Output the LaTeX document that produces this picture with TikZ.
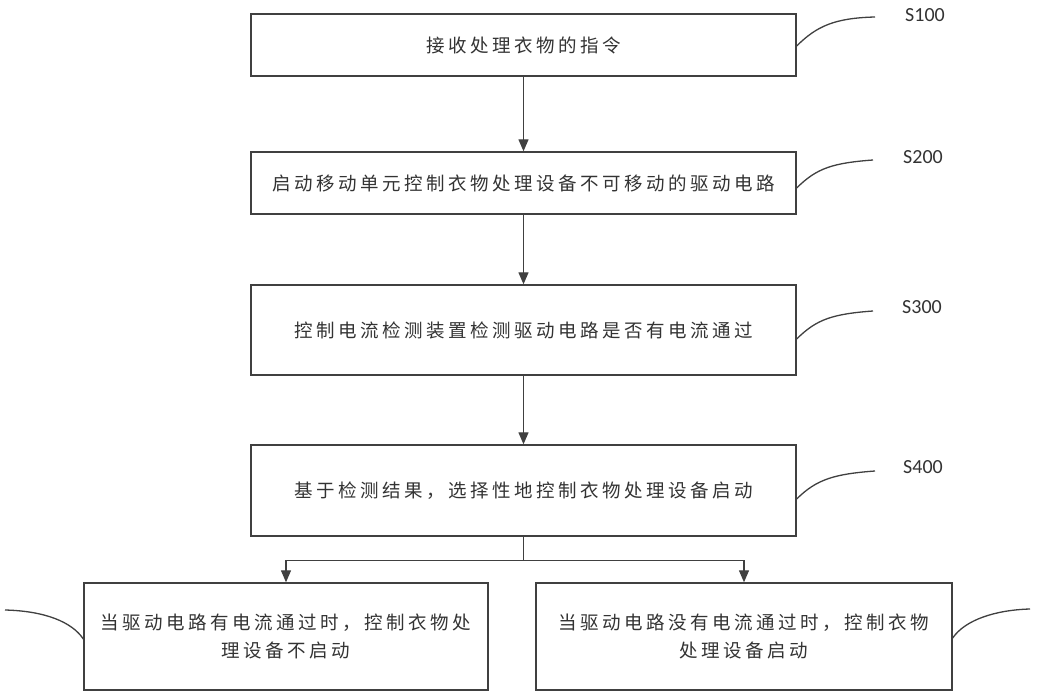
\documentclass[tikz,border=0pt]{standalone}
\usepackage{fontspec}
\usetikzlibrary{arrows.meta,calc}
\newfontfamily\cjk[LetterSpace=19]{Noto Sans CJK SC}
\newfontfamily\labfont{Carlito}
\definecolor{ln}{HTML}{404040}
\definecolor{tx}{HTML}{333333}
\begin{document}
\begin{tikzpicture}[x=1pt,y=-1pt,
  box/.style={draw=ln,line width=1.4pt,fill=white,inner sep=0pt,
    text=tx,font=\cjk\fontsize{18.5}{28}\selectfont,align=center},
  arr/.style={draw=ln,line width=1.3pt,-{Triangle[length=12pt,width=10pt]}},
  conn/.style={draw=ln,line width=1.3pt},
  lead/.style={draw=ln,line width=1.3pt},
  lab/.style={text=tx,font=\labfont\fontsize{20}{24}\selectfont,inner sep=0pt}]
\useasboundingbox[fill=white] (0,0) rectangle (1050,700);

\node[box,minimum width=545pt,minimum height=62pt] (b1) at (523.5,45) {接收处理衣物的指令};
\node[box,minimum width=545pt,minimum height=62pt] (b2) at (523.5,183) {启动移动单元控制衣物处理设备不可移动的驱动电路};
\node[box,minimum width=545pt,minimum height=90pt] (b3) at (523.5,330) {控制电流检测装置检测驱动电路是否有电流通过};
\node[box,minimum width=545pt,minimum height=91pt] (b4) at (523.5,490.5) {基于检测结果，选择性地控制衣物处理设备启动};
\node[box,minimum width=404pt,minimum height=107pt] (bl) at (286,636.5) {当驱动电路有电流通过时，控制衣物处\\理设备不启动};
\node[box,minimum width=416pt,minimum height=107pt] (br) at (744,636.5) {当驱动电路没有电流通过时，控制衣物\\处理设备启动};

\draw[arr] (b1) -- (b2);
\draw[arr] (b2) -- (b3);
\draw[arr] (b3) -- (b4);
\draw[conn] (b4.south) -- ++(0,24) coordinate (j);
\draw[arr] (j) -| (bl.north);
\draw[arr] (j) -| (br.north);

\node[lab] (l1) at (925,15) {S100};
\node[lab] (l2) at (923,157) {S200};
\node[lab] (l3) at (922,307) {S300};
\node[lab] (l4) at (923,467) {S400};

\coordinate (e1) at (b1.east |- 0,46);
\coordinate (e2) at (b2.east |- 0,188);
\coordinate (e3) at (b3.east |- 0,339);
\coordinate (e4) at (b4.east |- 0,499);
\coordinate (t1) at (875,17);
\coordinate (t2) at (873,160);
\coordinate (t3) at (873,311);
\coordinate (t4) at (875,471);
\draw[lead] (e1) .. controls ($(e1)+(20,-20)$) and ($(t1)+(-40,1)$) .. (t1);
\draw[lead] (e2) .. controls ($(e2)+(20,-20)$) and ($(t2)+(-40,3)$) .. (t2);
\draw[lead] (e3) .. controls ($(e3)+(20,-20)$) and ($(t3)+(-40,3)$) .. (t3);
\draw[lead] (e4) .. controls ($(e4)+(20,-20)$) and ($(t4)+(-40,3)$) .. (t4);

\coordinate (el) at (bl.west |- 0,639);
\coordinate (sl) at (5,610);
\draw[lead] (sl) .. controls (45,611) and (72,622) .. (el);
\coordinate (er) at (br.east |- 0,638);
\coordinate (sr) at (1030,609);
\draw[lead] (er) .. controls (965,620) and (995,610) .. (sr);
\end{tikzpicture}
\end{document}
